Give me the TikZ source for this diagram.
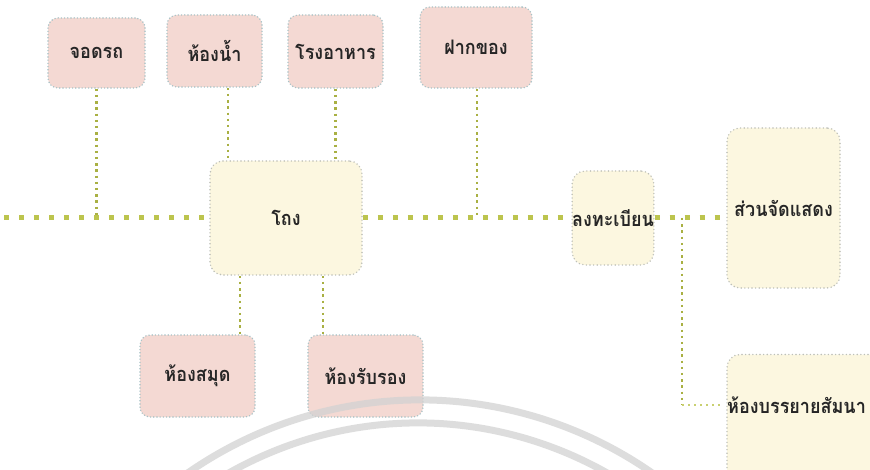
\documentclass[tikz,border=0pt]{standalone}
\usepackage{fontspec}
\newfontfamily\thai[Script=Thai,FakeStretch=0.9]{Loma}
\usetikzlibrary{calc}
\definecolor{pinkfill}{HTML}{F4D9D3}
\definecolor{pinkline}{HTML}{A8C2C6}
\definecolor{creamfill}{HTML}{FCF7E0}
\definecolor{creamline}{HTML}{BEC0B8}
\definecolor{olive}{HTML}{BCC44E}
\definecolor{olivedot}{HTML}{A9B043}
\definecolor{txt}{HTML}{262626}
\definecolor{arcgray}{HTML}{D2D2D2}
\tikzset{
  thaitext/.style={font=\thai\bfseries\fontsize{20}{22}\selectfont, text=txt},
  pinkbox/.style={draw=pinkline, fill=pinkfill, line width=1.6pt, dash pattern=on 0pt off 3.2pt, line cap=round,
    rounded corners=10pt, inner sep=0pt, thaitext},
  creambox/.style={draw=creamline, fill=creamfill, line width=1.6pt, dash pattern=on 0pt off 3.6pt, line cap=round,
    rounded corners=13pt, inner sep=0pt, thaitext},
  mainline/.style={draw=olive, line width=5pt, dash pattern=on 5pt off 10pt},
  dotline/.style={draw=olivedot, line width=2.4pt, dash pattern=on 2.4pt off 3.8pt},
  thinline/.style={draw=olive!80, line width=2pt, dash pattern=on 2pt off 4pt},
  arcline/.style={draw=arcgray, line width=7pt, opacity=0.75},
}
\begin{document}
\begin{tikzpicture}[x=1pt,y=-1pt]
\useasboundingbox (0,0) rectangle (870,470);
\clip (0,0) rectangle (870,470);
\fill[white] (0,0) rectangle (870,470);
% top boxes
\node[pinkbox, minimum width=97pt, minimum height=70pt] (jod) at (96.5,53) {จอดรถ};
\node[pinkbox, minimum width=95pt, minimum height=72pt] (nam) at (214.5,51) {ห้องน้ำ};
\node[pinkbox, minimum width=95pt, minimum height=73pt] (rong) at (335.5,51.5) {โรงอาหาร};
\node[pinkbox, minimum width=112pt, minimum height=81pt] (fak) at (476,47.5) {ฝากของ};
% centre
\node[creambox, minimum width=152pt, minimum height=114pt] (thong) at (286,218) {โถง};
\node[creambox, minimum width=80pt, minimum height=94pt] (long) at (613,218) {ลงทะเบียน};
\node[creambox, minimum width=113pt, minimum height=160pt] (suan) at (783.5,208) {ส่วนจัดแสดง};
% bottom boxes
\node[pinkbox, minimum width=115pt, minimum height=82pt] (samut) at (197.5,376) {ห้องสมุด};
\node[pinkbox, minimum width=115pt, minimum height=82pt] (rap) at (365.5,376) {ห้องรับรอง};
\node[creambox, minimum width=172pt, minimum height=135pt] (banyai) at (813,422) {};
\node[thaitext, anchor=west, inner sep=0pt] (bantext) at (727,405) {ห้องบรรยายสัมนา};
% main line
\coordinate (lstart) at (4,218);
\coordinate (jb) at (682,218);
\draw[mainline] (lstart) -- (thong.west);
\draw[mainline] (thong.east) -- (long.west);
\draw[mainline] (long.east |- jb) -- (suan.west |- jb);
% verticals
\draw[dotline] (jod.south) -- (jod.south |- lstart);
\draw[dotline] ([xshift=13.5pt]nam.south) -- ([xshift=13.5pt]nam.south |- thong.north);
\draw[dotline] (rong.south) -- (rong.south |- thong.north);
\draw[dotline] ([xshift=1pt]fak.south) -- ([xshift=1pt]fak.south |- lstart);
\draw[dotline] ([xshift=-46pt]thong.south) -- ([xshift=-46pt]thong.south |- samut.north);
\draw[dotline] ([xshift=37pt]thong.south) -- ([xshift=37pt]thong.south |- rap.north);
\draw[dotline] (jb) -- (jb |- bantext.west);
\draw[thinline] (jb |- bantext.west) -- ([xshift=-6pt]bantext.west);
% watermark arcs
\draw[arcline] (420,806) ++(200:406) arc[start angle=200, end angle=340, radius=406];
\draw[arcline] (418,806) ++(200:383) arc[start angle=200, end angle=340, radius=383];
\end{tikzpicture}
\end{document}
